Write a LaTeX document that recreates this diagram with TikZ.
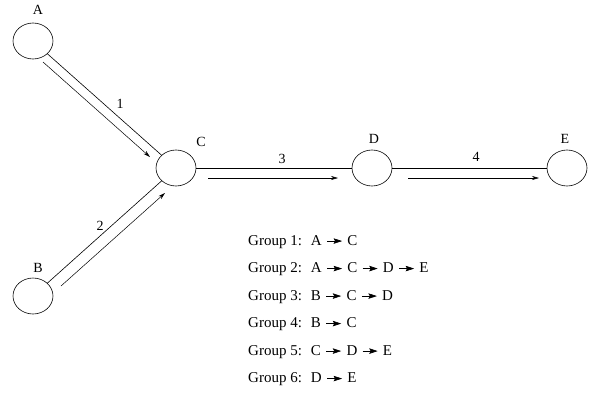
\documentclass[tikz,border=0pt]{standalone}
\usepackage{fontspec}
\setmainfont{Liberation Serif}
\usetikzlibrary{arrows.meta,calc,shapes.geometric}
\newcommand{\ar}{\hspace{5pt}\tikz[baseline=-4.3pt]\draw[line width=0.6pt,-{Stealth[length=8.5pt,width=5.5pt,inset=1.5pt]}] (0pt,0pt) -- (15pt,0pt);\hspace{5pt}}
\begin{document}
\begin{tikzpicture}[x=1pt,y=-1pt,
  site/.style={draw,ellipse,minimum width=40pt,minimum height=36pt,inner sep=0pt,line width=0.6pt},
  lbl/.style={font=\fontsize{14}{16}\selectfont,inner sep=0pt},
  link/.style={line width=0.6pt},
  flow/.style={line width=0.5pt,-{Stealth[length=7pt,width=4pt]}},
  grp/.style={font=\fontsize{15}{17}\selectfont,anchor=west,inner sep=0pt}]
\useasboundingbox (0,0) rectangle (594,394);
\node[site] (A) at (33,41) {};
\node[site] (B) at (33,296) {};
\node[site] (C) at (176,168) {};
\node[site] (D) at (372,168) {};
\node[site] (E) at (567,168) {};
\node[lbl] (la) at (38,10) {A};
\node[lbl] (lb) at (38,268) {B};
\node[lbl] (lc) at (201,142) {C};
\node[lbl] (ld) at (374,139) {D};
\node[lbl] (le) at (565,139) {E};
\draw[link] (A) -- (C);
\draw[link] (B) -- (C);
\draw[link] (C) -- (D);
\draw[link] (D) -- (E);
\node[lbl] (n1) at (120,104) {1};
\node[lbl] (n2) at (100,226) {2};
\node[lbl] (n3) at (282,159) {3};
\node[lbl] (n4) at (476,157) {4};
\coordinate (a1) at (43,62); \coordinate (a2) at (150,157);
\coordinate (b1) at (61,286); \coordinate (b2) at (165,193);
\coordinate (c1) at (208,178); \coordinate (c2) at (338,178);
\coordinate (d1) at (408,178); \coordinate (d2) at (539,178);
\draw[flow] (a1) -- (a2);
\draw[flow] (b1) -- (b2);
\draw[flow] (c1) -- (c2);
\draw[flow] (d1) -- (d2);
\node[grp] (g1) at (248,242) {Group 1:\hspace{9pt}A\ar C};
\node[grp] (g2) at (248,269.5) {Group 2:\hspace{9pt}A\ar C\ar D\ar E};
\node[grp] (g3) at (248,297) {Group 3:\hspace{9pt}B\ar C\ar D};
\node[grp] (g4) at (248,324.5) {Group 4:\hspace{9pt}B\ar C};
\node[grp] (g5) at (248,352) {Group 5:\hspace{9pt}C\ar D\ar E};
\node[grp] (g6) at (248,379.5) {Group 6:\hspace{9pt}D\ar E};
\end{tikzpicture}
\end{document}
